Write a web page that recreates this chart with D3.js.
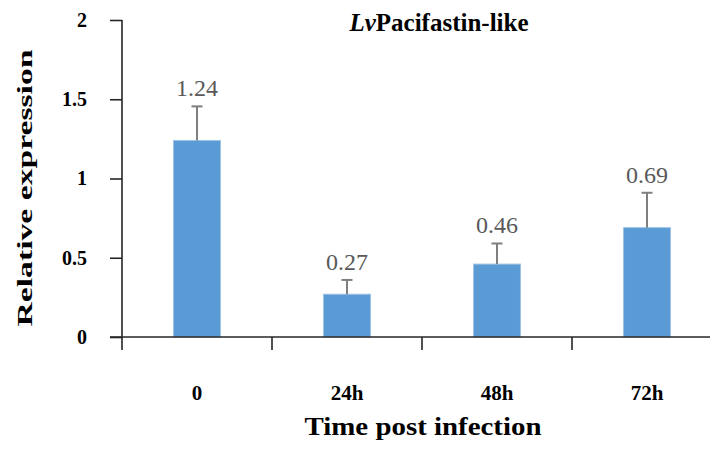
<!DOCTYPE html>
<html>
<head>
<meta charset="utf-8">
<script src="https://cdn.jsdelivr.net/npm/d3@7"></script>
<style>
  html, body { margin: 0; padding: 0; background: #fff; }
  svg { display: block; }
  text { font-family: "Liberation Serif", "Times New Roman", serif; }
</style>
</head>
<body>
<div id="chart"></div>
<script>
// Relative expression of LvPacifastin-like after infection
const categories = ["0", "24h", "48h", "72h"];
const values = [1.24, 0.27, 0.46, 0.69];
const errors = [0.215, 0.09, 0.13, 0.22];
const yTicks = [0, 0.5, 1, 1.5, 2];

const width = 710, height = 449;
const svg = d3.select("#chart").append("svg")
  .attr("width", width).attr("height", height);

const x = d3.scaleBand()
  .domain(categories)
  .range([122, 722])
  .paddingInner(0.687)
  .paddingOuter(0.3435);

const y = d3.scaleLinear().domain([0, 2]).range([337, 20]);

const axisColor = "#262626";

// Bars
svg.append("g").selectAll("rect")
  .data(values)
  .join("rect")
  .attr("x", (d, i) => x(categories[i]))
  .attr("y", d => y(d))
  .attr("width", x.bandwidth())
  .attr("height", d => y(0) - y(d))
  .attr("fill", "#5B9BD5")
  .attr("stroke", "#9DC3E6")
  .attr("stroke-width", 1);

// Error bars (upper only)
const eb = svg.append("g").attr("stroke", "#7F7F7F").attr("stroke-width", 2);
values.forEach((v, i) => {
  const cx = x(categories[i]) + x.bandwidth() / 2;
  eb.append("line")
    .attr("x1", cx).attr("x2", cx)
    .attr("y1", y(v)).attr("y2", y(v + errors[i]));
  eb.append("line")
    .attr("x1", cx - 5.5).attr("x2", cx + 5.5)
    .attr("y1", y(v + errors[i])).attr("y2", y(v + errors[i]));
});

// Value labels
svg.append("g").selectAll("text")
  .data(values)
  .join("text")
  .attr("x", (d, i) => x(categories[i]) + x.bandwidth() / 2)
  .attr("y", (d, i) => y(d + errors[i]) - 10)
  .attr("text-anchor", "middle")
  .attr("font-size", 24)
  .attr("fill", "#595959")
  .text(d => d.toFixed(2));

// Y axis
const yAxis = svg.append("g")
  .attr("transform", "translate(122,0)")
  .call(d3.axisLeft(y).tickValues(yTicks).tickSize(12).tickPadding(23)
    .tickFormat(d => String(d)));
yAxis.select(".domain").remove();
yAxis.selectAll(".tick line").attr("stroke", axisColor).attr("stroke-width", 1.6);
yAxis.selectAll(".tick text")
  .attr("fill", "#000")
  .attr("font-size", 20)
  .attr("font-weight", "bold")
  .style("font-family", "'Liberation Serif', serif");

// Vertical axis line (extends below zero to the first category boundary)
svg.append("line")
  .attr("x1", 122).attr("x2", 122)
  .attr("y1", y(2)).attr("y2", 350)
  .attr("stroke", axisColor).attr("stroke-width", 1.6);

// Horizontal axis line
svg.append("line")
  .attr("x1", 110).attr("x2", width)
  .attr("y1", y(0)).attr("y2", y(0))
  .attr("stroke", axisColor).attr("stroke-width", 1.6);

// Category boundary ticks
const step = x.step();
const boundaries = categories.map(c => x(c) + x.bandwidth() / 2 + step / 2);
svg.append("g").selectAll("line")
  .data(boundaries)
  .join("line")
  .attr("x1", d => d).attr("x2", d => d)
  .attr("y1", y(0)).attr("y2", 350)
  .attr("stroke", axisColor).attr("stroke-width", 1.6);

// X category labels
const xAxis = svg.append("g")
  .attr("transform", `translate(0,${y(0)})`)
  .call(d3.axisBottom(x).tickSize(0).tickPadding(48));
xAxis.select(".domain").remove();
xAxis.selectAll(".tick text")
  .attr("fill", "#000")
  .attr("font-size", 21)
  .attr("font-weight", "bold")
  .style("font-family", "'Liberation Serif', serif");

// Axis titles
svg.append("text")
  .attr("x", 423).attr("y", 435)
  .attr("text-anchor", "middle")
  .attr("font-size", 26)
  .attr("font-weight", "bold")
  .attr("textLength", 237)
  .attr("lengthAdjust", "spacingAndGlyphs")
  .text("Time post infection");

svg.append("text")
  .attr("transform", "translate(32,188) rotate(-90)")
  .attr("text-anchor", "middle")
  .attr("font-size", 22)
  .attr("font-weight", "bold")
  .attr("textLength", 277)
  .attr("lengthAdjust", "spacingAndGlyphs")
  .text("Relative expression");

// Chart title
const title = svg.append("text")
  .attr("x", 439).attr("y", 31)
  .attr("text-anchor", "middle")
  .attr("font-size", 25)
  .attr("font-weight", "bold");
title.append("tspan").attr("font-style", "italic").text("Lv");
title.append("tspan").text("Pacifastin-like");
</script>
</body>
</html>
